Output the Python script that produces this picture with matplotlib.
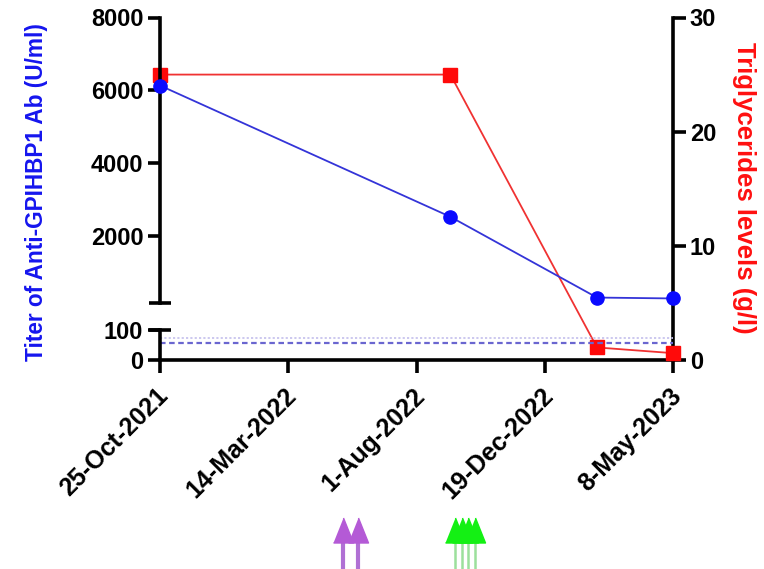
import matplotlib
matplotlib.use("Agg")
import matplotlib.pyplot as plt
import matplotlib.transforms as mtransforms
from datetime import datetime

plt.rcParams['font.family'] = ['Liberation Sans', 'DejaVu Sans']
plt.rcParams['font.weight'] = 'bold'

# ---------------- data ----------------
dates = ["2021-10-25", "2022-09-07", "2023-02-14", "2023-05-08"]
titer = [6130, 2520, 300, 275]            # U/ml (left axis)
triglycerides = [25.0, 25.0, 1.1, 0.6]    # g/l (right axis)

xtick_dates = ["2021-10-25", "2022-03-14", "2022-08-01", "2022-12-19", "2023-05-08"]
xtick_labels = ["25-Oct-2021", "14-Mar-2022", "1-Aug-2022", "19-Dec-2022", "8-May-2023"]

upper_ticks = [2000, 4000, 6000, 8000]
lower_ticks = [0, 100]
right_ticks = [0, 10, 20, 30]

cutoff_dotted = 72
cutoff_dashed = 56

purple_arrow_dates = ["2022-05-13", "2022-05-29"]
green_arrow_dates = ["2022-09-12", "2022-09-20", "2022-09-26", "2022-10-04"]

to_dt = lambda s: datetime.strptime(s, "%Y-%m-%d")
x = [to_dt(d) for d in dates]
xt = [to_dt(d) for d in xtick_dates]

# ---------------- layout ----------------
W, H = 764, 569
fig = plt.figure(figsize=(W / 100, H / 100), dpi=100)

def rect(x0, y_top, x1, y_bot):
    return [x0 / W, 1 - y_bot / H, (x1 - x0) / W, (y_bot - y_top) / H]

ax_r = fig.add_axes(rect(160, 17.5, 673, 360))
ax_top = fig.add_axes(rect(160, 17.5, 673, 303), sharex=ax_r)
ax_bot = fig.add_axes(rect(160, 330, 673, 360), sharex=ax_r)

SW = 2.6
TICK_FS = 17
BLUE = '#0a0aff'
BLUE_LINE = '#3434d8'
RED = '#ff0a0a'
RED_LINE = '#f03232'

for a in (ax_r, ax_top, ax_bot):
    a.patch.set_alpha(0)
    for s in a.spines.values():
        s.set_linewidth(SW)

# right axis (triglycerides) + x axis
ax_r.spines['left'].set_visible(False)
ax_r.spines['top'].set_visible(False)
ax_r.yaxis.tick_right()
ax_r.set_ylim(0, 30)
ax_r.set_yticks(right_ticks)
ax_r.tick_params(axis='y', length=9, width=SW, labelsize=TICK_FS, pad=3)
ax_r.set_xlim(xt[0], xt[-1])
ax_r.set_xticks(xt)
ax_r.set_xticklabels(xtick_labels, rotation=45, ha='right', rotation_mode='anchor')
ax_r.tick_params(axis='x', length=9, width=SW, labelsize=18, pad=8)
shift = mtransforms.ScaledTranslation(-4 / 100, 0, fig.dpi_scale_trans)
for lab in ax_r.get_xticklabels():
    lab.set_transform(lab.get_transform() + shift)
ax_r.plot(x, triglycerides, color=RED_LINE, lw=1.3, marker='s', ms=9.5,
          mfc=RED, mec=RED, zorder=3, clip_on=False)

# upper left segment
for s in ('right', 'top', 'bottom'):
    ax_top.spines[s].set_visible(False)
ax_top.set_ylim(150, 8000)
ax_top.set_yticks(upper_ticks)
ax_top.tick_params(axis='y', length=9, width=SW, labelsize=TICK_FS, pad=3)
ax_top.tick_params(axis='x', bottom=False, labelbottom=False)
ax_top.plot(x, titer, color=BLUE_LINE, lw=1.3, marker='o', ms=9.5,
            mfc=BLUE, mec=BLUE, zorder=4, clip_on=False)
ax_top.plot([0], [0], marker='_', ms=16, mew=SW, color='k',
            transform=ax_top.transAxes, clip_on=False)

# lower left segment
for s in ('right', 'top', 'bottom'):
    ax_bot.spines[s].set_visible(False)
ax_bot.set_ylim(0, 100)
ax_bot.set_yticks(lower_ticks)
ax_bot.tick_params(axis='y', length=9, width=SW, labelsize=TICK_FS, pad=3)
ax_bot.tick_params(axis='x', bottom=False, labelbottom=False)
ax_bot.axhline(cutoff_dotted, color='#c8c4ee', lw=1.3, ls=(0, (1.2, 1.2)))
ax_bot.axhline(cutoff_dashed, color='#6a66d0', lw=1.6, ls=(0, (2.5, 1.6)))
ax_bot.plot([0], [1], marker='_', ms=16, mew=SW, color='k',
            transform=ax_bot.transAxes, clip_on=False)

# axis titles
fig.text(37 / W, 1 - 192 / H, "Titer of Anti-GPIHBP1 Ab (U/ml)", rotation=90,
         ha='center', va='center', color='#1515ee', fontsize=16.3, fontweight='bold')
fig.text(744 / W, 1 - 188 / H, "Triglycerides levels (g/l)", rotation=270,
         ha='center', va='center', color='#ff1010', fontsize=18.5, fontweight='bold')

# treatment arrows below the axis
trans = mtransforms.blended_transform_factory(ax_r.transData, fig.transFigure)
head = [(-0.4, -0.5), (0.4, -0.5), (0.0, 0.5)]
y_tip, y_base, y_stem = 1 - 517 / H, 1 - 542 / H, 0.0
y_mid = (y_tip + y_base) / 2

def arrows(dlist, head_col, stem_col, stem_w):
    for d in dlist:
        xd = to_dt(d)
        ax_r.plot([xd, xd], [y_stem, y_base], transform=trans, color=stem_col,
                  lw=stem_w, clip_on=False, solid_capstyle='butt')
    for d in dlist:
        xd = to_dt(d)
        ax_r.plot([xd], [y_mid], transform=trans, marker=head, ms=18,
                  color=head_col, mec=head_col, clip_on=False, ls='none')

arrows(purple_arrow_dates, '#b45ad6', '#b070d4', 3.0)
arrows(green_arrow_dates, '#14f014', '#9ce09c', 1.8)

fig.savefig("out.png", dpi=100)
